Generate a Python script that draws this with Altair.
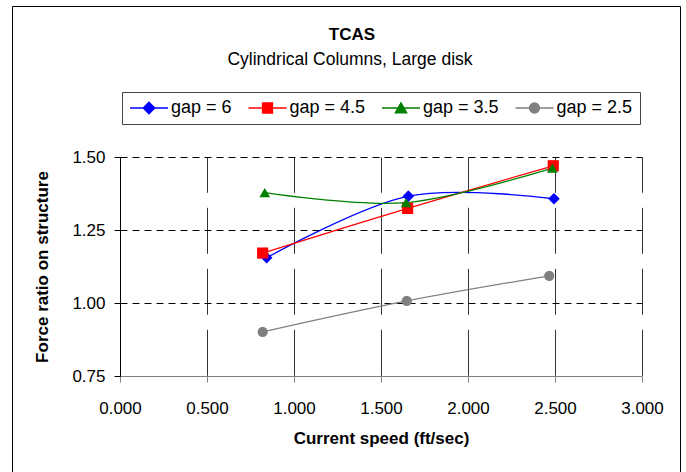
import altair as alt
import pandas as pd

# ---- data ----
series_names = ["gap = 6", "gap = 4.5", "gap = 3.5", "gap = 2.5"]
speed_gap6 = [0.843, 1.657, 2.494]
force_gap6 = [1.155, 1.366, 1.357]
speed_gap45 = [0.82, 1.653, 2.49]
force_gap45 = [1.171, 1.324, 1.470]
speed_gap35 = [0.832, 1.644, 2.485]
force_gap35 = [1.378, 1.344, 1.462]
speed_gap25 = [0.82, 1.648, 2.467]
force_gap25 = [0.901, 1.007, 1.093]

x_ticks = [0.0, 0.5, 1.0, 1.5, 2.0, 2.5, 3.0]
y_ticks = [0.75, 1.0, 1.25, 1.5]

title_text = "TCAS"
subtitle_text = "Cylindrical Columns, Large disk"

colors = ["#0000FF", "#FF0000", "#008000", "#808080"]
shapes = ["diamond", "square", "triangle-up", "circle"]
sizes = [135, 105, 150, 115]

rows = []
for name, xs, ys in zip(series_names,
                        [speed_gap6, speed_gap45, speed_gap35, speed_gap25],
                        [force_gap6, force_gap45, force_gap35, force_gap25]):
    for i, (x, y) in enumerate(zip(xs, ys)):
        rows.append({"series": name, "marker": name, "speed": x, "force": y, "order": i})
df = pd.DataFrame(rows)

FONT = "Liberation Sans"

color_scale = alt.Scale(domain=series_names, range=colors)
x_enc = alt.X("speed:Q", scale=alt.Scale(domain=[0, 3], nice=False),
              axis=alt.Axis(values=x_ticks, format=".3f", title="Current speed (ft/sec)",
                            grid=True, gridColor="#333333", gridDash=[46, 15], gridDashOffset=10.7,
                            gridWidth=1, domainColor="#808080", tickColor="#808080", tickSize=6,
                            labelPadding=18, titlePadding=14, labelFlush=False))
y_enc = alt.Y("force:Q", scale=alt.Scale(domain=[0.75, 1.5], nice=False, zero=False),
              axis=alt.Axis(values=y_ticks, format=".2f", title="Force ratio on structure",
                            grid=True, gridColor="#000000", gridDash=[7, 5], gridWidth=1,
                            gridOpacity=alt.ExprRef("datum.value == 0.75 ? 0 : 1"),
                            domainColor="#000000", tickColor="#000000", tickSize=6,
                            labelPadding=9, titlePadding=20))

# legend symbol paths: a line with the marker in the middle
p6 = "M-1.6,0H6M2.2,-1.15L3.35,0L2.2,1.15L1.05,0Z"
p45 = "M-1.6,0H6M1.2,-1L3.2,-1L3.2,1L1.2,1Z"
p35 = "M-1.6,0H6M2.2,-1.05L3.35,0.95L1.05,0.95Z"
p25 = "M-1.6,0H6M1.2,0A1,1,0,1,1,3.2,0A1,1,0,1,1,1.2,0Z"
shape_expr = ("datum.value === 'gap = 6' ? '%s' : datum.value === 'gap = 4.5' ? '%s' : "
              "datum.value === 'gap = 3.5' ? '%s' : '%s'") % (p6, p45, p35, p25)

legend = alt.Legend(
    title=None, orient="none", legendX=2, legendY=-65, direction="horizontal", columns=4,
    labelFont=FONT, labelFontSize=18, labelColor="black", labelOffset=24,
    symbolSize=100, columnPadding=13.5, padding=7, strokeColor="#444444",
    symbolType=alt.ExprRef(shape_expr),
    symbolFillColor=alt.ExprRef("scale('color', datum.value)"),
    symbolStrokeColor=alt.ExprRef("scale('color', datum.value)"),
    symbolStrokeWidth=1.3, symbolOpacity=1,
)

lines = alt.Chart(df).mark_line(interpolate="cardinal", strokeWidth=1.3).encode(
    x=x_enc, y=y_enc,
    color=alt.Color("series:N", scale=color_scale),
    detail="series:N",
    order="order:Q",
)

points = alt.Chart(df).mark_point(filled=True, opacity=1).encode(
    x=alt.X("speed:Q"), y=alt.Y("force:Q"),
    color=alt.Color("series:N", scale=color_scale, legend=legend),
    shape=alt.Shape("marker:N", sort=series_names, scale=alt.Scale(range=shapes), legend=None),
    size=alt.Size("marker:N", sort=series_names, scale=alt.Scale(range=sizes), legend=None),
)

frame = alt.Chart(alt.Data(values=[{"k": 1}])).mark_rect(
    fill=None, stroke="black", strokeWidth=1
).encode(x=alt.value(-107.5), x2=alt.value(560.5), y=alt.value(-150.5), y2=alt.value(330))

titles = alt.Chart(alt.Data(values=[{"t": title_text}])).mark_text(
    font=FONT, fontSize=17, fontWeight="bold", color="black", baseline="alphabetic", align="center"
).encode(text="t:N", x=alt.value(232), y=alt.value(-117.5))

subtitles = alt.Chart(alt.Data(values=[{"t": subtitle_text}])).mark_text(
    font=FONT, fontSize=17.5, color="black", baseline="alphabetic", align="center"
).encode(text="t:N", x=alt.value(230), y=alt.value(-92))

chart = alt.layer(frame, titles, subtitles, lines, points).properties(
    width=522, height=219, background="white",
    padding={"left": 120, "top": 157, "right": 44, "bottom": 96},
    autosize=alt.AutoSizeParams(type="none"),
).configure_view(stroke=None).configure_axis(
    labelFont=FONT, labelFontSize=17, labelColor="black",
    titleFont=FONT, titleFontSize=17, titleFontWeight="bold", titleColor="black",
)

chart.save("out.html", embed_options={"renderer": "svg", "actions": False})
